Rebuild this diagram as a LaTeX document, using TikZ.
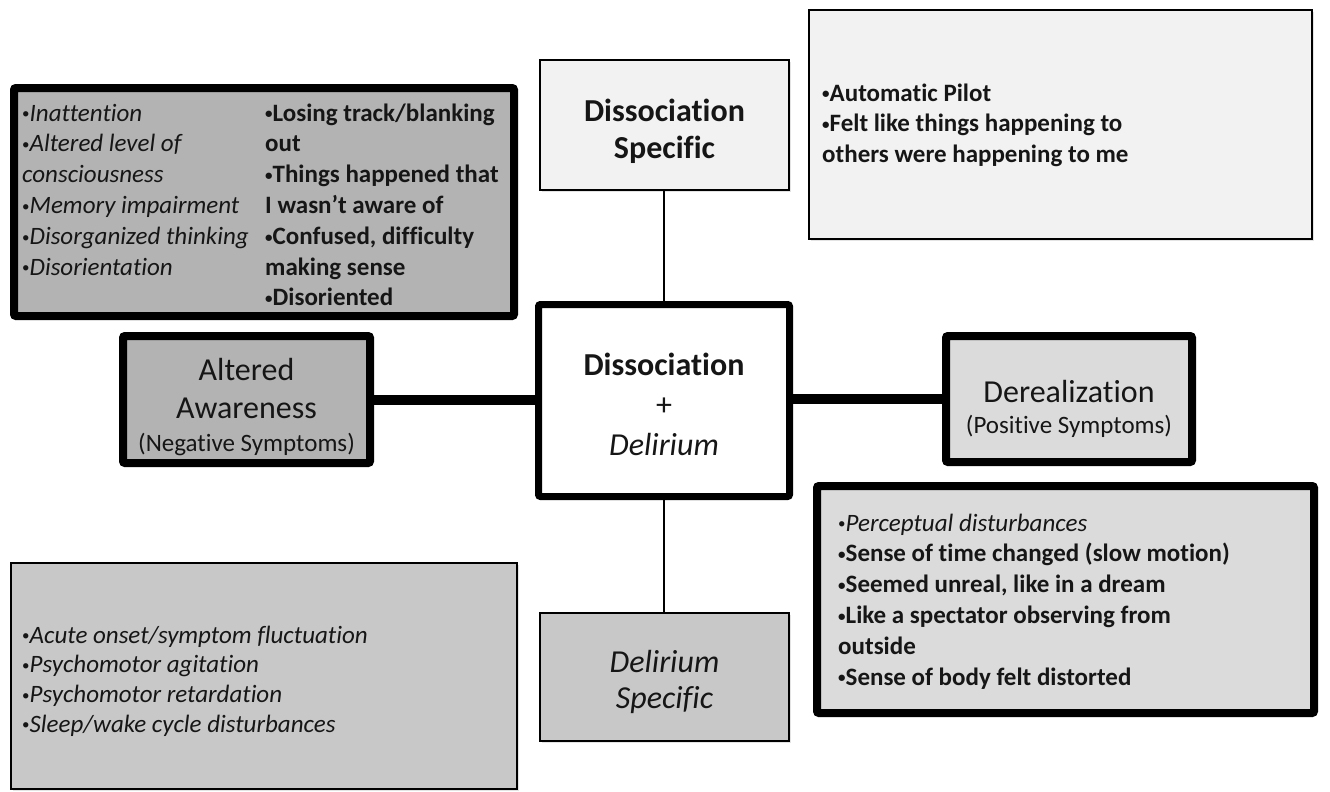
\documentclass[tikz,border=0pt]{standalone}
\usepackage{fontspec}
\setmainfont{Carlito}[Ligatures=NoCommon]
\usetikzlibrary{shadows}

\definecolor{fillDark}{RGB}{179,179,179}
\definecolor{fillMid}{RGB}{200,200,200}
\definecolor{fillLight}{RGB}{219,219,219}
\definecolor{fillPale}{RGB}{242,242,242}
\definecolor{ink}{RGB}{22,22,22}

\newcommand\listsize{\fontsize{25}{30.8}\selectfont}
\newcommand\headsize{\fontsize{32}{38}\selectfont}
\newcommand\subsize{\fontsize{25}{31}\selectfont}
% small list bullet, set upright and raised to the middle of the x-height
\newcommand\bul{\raisebox{2.2pt}{\fontsize{15}{15}\selectfont\upshape•}}

\tikzset{
  box/.style={rectangle, draw=black, inner sep=0pt, outer sep=0pt},
  heavybox/.style={box, line width=8pt, rounded corners=2pt,
    drop shadow={opacity=0.22, shadow xshift=2pt, shadow yshift=-2pt}},
  lightbox/.style={box, line width=2pt,
    drop shadow={opacity=0.22, shadow xshift=2pt, shadow yshift=-2pt}},
  listtext/.style={anchor=base west, inner sep=0pt, text=ink},
  headtext/.style={anchor=base, inner sep=0pt, text=ink},
  heavylink/.style={draw=black, line width=10pt},
  lightlink/.style={draw=black, line width=2pt},
}

\begin{document}
\begin{tikzpicture}[x=1pt, y=-1pt]
\useasboundingbox[fill=white] (0,0) rectangle (1330,792);

% ---- boxes ----
\node[heavybox, fill=fillDark, minimum width=500pt, minimum height=228pt] (tl) at (264,202) {};
\node[lightbox, fill=fillPale, minimum width=249pt, minimum height=130pt] (ds) at (664.5,125) {};
\node[lightbox, fill=fillPale, minimum width=503pt, minimum height=229pt] (tr) at (1060.5,124.5) {};
\node[heavybox, fill=white, line width=7pt, minimum width=251pt, minimum height=192pt] (ct) at (664,400.5) {};
\node[heavybox, fill=fillDark, minimum width=247pt, minimum height=127pt] (aa) at (246.5,399.5) {};
\node[heavybox, fill=fillLight, minimum width=246pt, minimum height=126pt] (dr) at (1069,399) {};
\node[heavybox, fill=fillLight, minimum width=497pt, minimum height=227pt] (br) at (1065.5,599.5) {};
\node[lightbox, fill=fillMid, minimum width=249pt, minimum height=128pt] (dl) at (664.5,677) {};
\node[lightbox, fill=fillMid, minimum width=506pt, minimum height=226pt] (bl) at (264,676) {};

% ---- connectors ----
\draw[heavylink] (aa.east) -- (aa.east -| ct.west);
\draw[heavylink] (dr.west -| ct.east) -- (dr.west);
\draw[lightlink] (ds.south -| ct.north) -- (ct.north);
\draw[lightlink] (ct.south) -- (ct.south |- dl.north);

% ---- headings ----
\node[headtext] (dsText) at (664.5,121) {\parbox[t]{240pt}{\centering\headsize\bfseries
  Dissociation\\[-1pt]Specific}};
\node[headtext] (ctText) at (664,375) {\parbox[t]{240pt}{\centering\fontsize{32}{40}\selectfont
  \textbf{Dissociation}\\+\\\textit{Delirium}}};
\node[headtext] (aaText) at (246.5,380) {\parbox[t]{240pt}{\centering
  {\headsize Altered\\Awareness\par}{\fontsize{25}{33}\selectfont (Negative Symptoms)\par}}};
\node[headtext] (drText) at (1069,402) {\parbox[t]{240pt}{\centering
  {\headsize Derealization\par}{\subsize (Positive Symptoms)\par}}};
\node[headtext] (dlText) at (664.5,672) {\parbox[t]{240pt}{\centering\fontsize{32}{36}\selectfont\itshape
  Delirium\\Specific}};

% ---- symptom lists ----
\node[listtext] (tlLeft) at (22,121) {\parbox[t]{240pt}{\raggedright\listsize\itshape
  \bul Inattention\\\bul Altered level of\\consciousness\\\bul Memory impairment\\\bul Disorganized thinking\\\bul Disorientation}};
\node[listtext] (tlRight) at (265,121) {\parbox[t]{250pt}{\raggedright\listsize\bfseries
  \bul Losing track/blanking\\out\\\bul Things happened that\\I wasn’t aware of\\\bul Confused, difficulty\\making sense\\\bul Disoriented}};
\node[listtext] (trList) at (822,101) {\parbox[t]{480pt}{\raggedright\listsize\bfseries
  \bul Automatic Pilot\\\bul Felt like things happening to\\others were happening to me}};
\node[listtext] (blList) at (22,643) {\parbox[t]{480pt}{\raggedright\fontsize{25}{29.7}\selectfont\itshape
  \bul Acute onset/symptom fluctuation\\\bul Psychomotor agitation\\\bul Psychomotor retardation\\\bul Sleep/wake cycle disturbances}};
\node[listtext] (brList) at (838,531) {\parbox[t]{470pt}{\raggedright\fontsize{25}{30.8}\selectfont
  \textit{\bul Perceptual disturbances}\\\textbf{\bul Sense of time changed (slow motion)}\\\textbf{\bul Seemed unreal, like in a dream}\\\textbf{\bul Like a spectator observing from}\\\textbf{outside}\\\textbf{\bul Sense of body felt distorted}}};
\end{tikzpicture}
\end{document}
